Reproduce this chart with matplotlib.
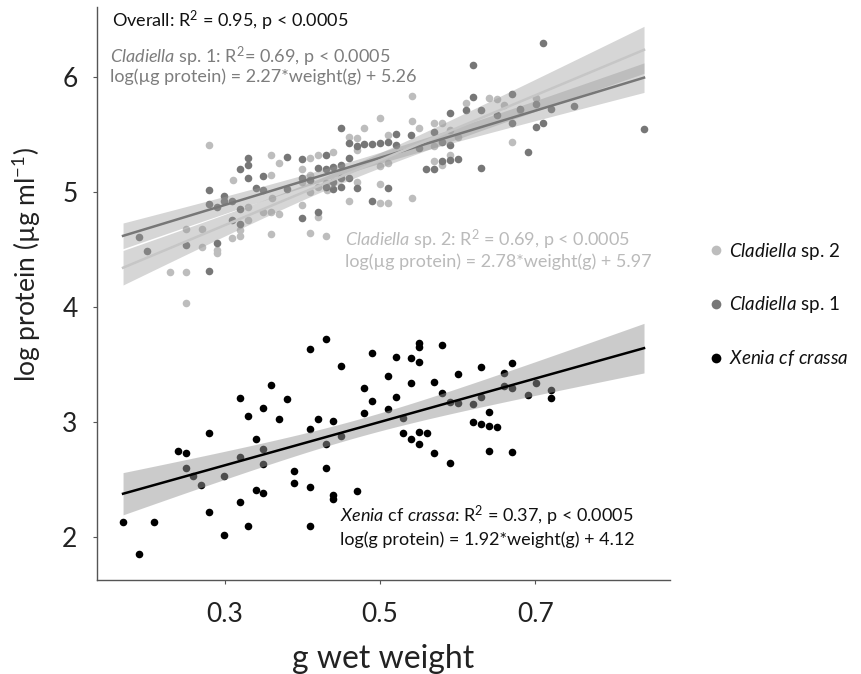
import numpy as np
import matplotlib
matplotlib.use("Agg")
import matplotlib.pyplot as plt
from matplotlib.lines import Line2D

plt.rcParams["font.family"] = ["Lato", "DejaVu Sans"]
plt.rcParams["mathtext.fontset"] = "custom"
plt.rcParams["mathtext.rm"] = "Lato"
plt.rcParams["mathtext.it"] = "Lato:italic"
plt.rcParams["mathtext.default"] = "regular"

# Cladiella sp. 1 (dark grey)
sp1_weight = [0.190, 0.200, 0.250, 0.280, 0.280, 0.280, 0.290, 0.290, 0.299, 0.299,
              0.309, 0.309, 0.320, 0.320, 0.320, 0.330, 0.330, 0.330, 0.340, 0.349,
              0.349, 0.380, 0.380, 0.400, 0.400, 0.400, 0.410, 0.420, 0.420, 0.430,
              0.430, 0.430, 0.439, 0.439, 0.439, 0.450, 0.450, 0.450, 0.450, 0.460,
              0.460, 0.460, 0.470, 0.470, 0.479, 0.490, 0.490, 0.500, 0.510, 0.510,
              0.521, 0.521, 0.540, 0.550, 0.559, 0.570, 0.570, 0.580, 0.580, 0.590,
              0.590, 0.590, 0.601, 0.611, 0.620, 0.620, 0.630, 0.630, 0.651, 0.670,
              0.670, 0.680, 0.691, 0.701, 0.701, 0.710, 0.710, 0.720, 0.750, 0.840]
sp1_protein = [4.61, 4.49, 4.54, 5.02, 4.90, 4.32, 4.87, 4.56, 4.97, 4.93,
               4.93, 4.76, 5.20, 4.86, 4.73, 5.30, 5.24, 5.13, 5.04, 5.14,
               5.02, 5.31, 5.03, 5.29, 5.13, 4.78, 5.11, 5.21, 4.83, 5.33,
               5.20, 5.05, 5.22, 5.09, 5.03, 5.56, 5.24, 5.13, 5.05, 5.43,
               5.30, 5.13, 5.40, 5.04, 5.42, 5.42, 4.93, 5.43, 5.44, 5.04,
               5.51, 5.41, 5.50, 5.39, 5.20, 5.20, 5.53, 5.44, 5.27, 5.41,
               5.28, 5.69, 5.29, 5.72, 5.83, 6.11, 5.72, 5.21, 5.67, 5.86,
               5.60, 5.73, 5.35, 5.77, 5.57, 5.60, 6.30, 5.73, 5.75, 5.55]

# Cladiella sp. 2 (light grey)
sp2_weight = [0.230, 0.250, 0.250, 0.250, 0.271, 0.271, 0.280, 0.290, 0.290, 0.309,
              0.311, 0.320, 0.320, 0.330, 0.330, 0.349, 0.360, 0.360, 0.360, 0.360,
              0.361, 0.370, 0.370, 0.400, 0.400, 0.400, 0.410, 0.410, 0.410, 0.410,
              0.420, 0.420, 0.420, 0.430, 0.430, 0.432, 0.439, 0.460, 0.460, 0.470,
              0.470, 0.470, 0.479, 0.500, 0.500, 0.500, 0.500, 0.510, 0.510, 0.510,
              0.541, 0.541, 0.541, 0.550, 0.570, 0.580, 0.570, 0.570, 0.580, 0.590,
              0.590, 0.601, 0.611, 0.640, 0.651, 0.660, 0.670, 0.680, 0.701]
sp2_protein = [4.31, 4.31, 4.68, 4.04, 4.68, 4.53, 5.41, 4.50, 4.47, 4.60,
               5.11, 4.67, 4.62, 4.87, 4.76, 4.83, 5.33, 5.15, 4.83, 4.64,
               4.95, 5.26, 4.81, 4.89, 5.20, 5.09, 5.30, 5.15, 5.00, 4.65,
               5.33, 5.05, 4.79, 5.08, 4.62, 5.02, 5.35, 5.48, 4.93, 5.47,
               5.37, 5.09, 5.56, 5.65, 5.23, 5.07, 4.91, 5.50, 5.26, 4.91,
               5.84, 5.62, 4.95, 5.56, 5.60, 5.60, 5.40, 5.27, 5.24, 5.54,
               5.33, 5.48, 5.78, 5.82, 5.81, 5.76, 5.44, 5.72, 5.82]

# Xenia cf crassa (black)
xen_weight = [0.169, 0.190, 0.209, 0.240, 0.250, 0.250, 0.259, 0.270, 0.280, 0.280,
              0.299, 0.299, 0.320, 0.320, 0.320, 0.330, 0.330, 0.340, 0.340, 0.349,
              0.349, 0.349, 0.349, 0.360, 0.370, 0.380, 0.389, 0.389, 0.410, 0.410,
              0.410, 0.410, 0.420, 0.430, 0.430, 0.430, 0.439, 0.439, 0.439, 0.450,
              0.450, 0.470, 0.479, 0.479, 0.490, 0.490, 0.510, 0.510, 0.521, 0.521,
              0.530, 0.530, 0.540, 0.540, 0.540, 0.550, 0.550, 0.550, 0.550, 0.550,
              0.561, 0.570, 0.570, 0.580, 0.580, 0.590, 0.590, 0.601, 0.601, 0.620,
              0.620, 0.630, 0.630, 0.630, 0.640, 0.640, 0.640, 0.651, 0.660, 0.660,
              0.670, 0.670, 0.670, 0.691, 0.701, 0.720, 0.720]
xen_protein = [2.13, 1.86, 2.13, 2.75, 2.73, 2.60, 2.53, 2.46, 2.91, 2.22,
               2.53, 2.02, 3.21, 2.70, 2.31, 3.06, 2.10, 2.86, 2.41, 3.13,
               2.77, 2.64, 2.39, 3.33, 3.03, 3.20, 2.58, 2.47, 3.64, 2.94,
               2.44, 2.10, 3.03, 3.73, 2.81, 2.60, 3.01, 2.37, 2.33, 3.49,
               2.88, 2.40, 3.30, 3.08, 3.60, 3.19, 3.40, 3.12, 3.57, 3.22,
               3.04, 2.91, 3.56, 3.34, 2.86, 3.69, 3.66, 3.53, 2.92, 2.81,
               2.91, 3.35, 2.73, 3.67, 3.26, 3.18, 2.65, 3.42, 3.17, 3.16,
               3.00, 3.48, 3.22, 2.99, 3.09, 2.97, 2.75, 2.96, 3.43, 3.32,
               3.52, 3.30, 2.74, 3.24, 3.34, 3.28, 3.21]

x_ticks = [0.3, 0.5, 0.7]
y_ticks = [2, 3, 4, 5, 6]


def fit_band(x, y, xs):
    x = np.asarray(x)
    y = np.asarray(y)
    slope, intercept = np.polyfit(x, y, 1)
    resid = y - (slope * x + intercept)
    n = len(x)
    s = np.sqrt(np.sum(resid ** 2) / (n - 2))
    se = s * np.sqrt(1.0 / n + (xs - x.mean()) ** 2 / np.sum((x - x.mean()) ** 2))
    fit = slope * xs + intercept
    return fit, fit - 1.99 * se, fit + 1.99 * se


fig = plt.figure(figsize=(8.61, 6.74), dpi=100)
ax = fig.add_axes([0.1127, 0.1395, 0.6655, 0.8501])

ax.scatter(sp2_weight, sp2_protein, s=30, color="#bdbdbd", linewidths=0, zorder=2)
ax.scatter(sp1_weight, sp1_protein, s=30, color="#777777", linewidths=0, zorder=2)
ax.scatter(xen_weight, xen_protein, s=30, color="black", linewidths=0, zorder=2)

all_w = sp1_weight + sp2_weight + xen_weight
xs = np.linspace(min(all_w), max(all_w), 100)

for w, p, line_col, alpha in [(sp1_weight, sp1_protein, "#777777", 0.4),
                              (sp2_weight, sp2_protein, "#c6c6c6", 0.4),
                              (xen_weight, xen_protein, "black", 0.5)]:
    fit, lo, hi = fit_band(w, p, xs)
    ax.fill_between(xs, lo, hi, color="#999999", alpha=alpha, linewidth=0, zorder=3)
    ax.plot(xs, fit, color=line_col, linewidth=1.8, zorder=4)

ax.set_xlim(0.1355, 0.8735)
ax.set_ylim(1.63, 6.613)
ax.set_xticks(x_ticks)
ax.set_xticklabels(["0.3", "0.5", "0.7"])
ax.set_yticks(y_ticks)
for side in ["top", "right"]:
    ax.spines[side].set_visible(False)
for side in ["left", "bottom"]:
    ax.spines[side].set_color("#555555")
    ax.spines[side].set_linewidth(1.0)
ax.tick_params(axis="both", direction="out", length=3, width=0.8, colors="#555555",
               labelcolor="#222222", labelsize=19)
ax.tick_params(axis="x", pad=13)
ax.tick_params(axis="y", pad=11)

ax.set_xlabel("g wet weight", fontsize=23, color="#222222", labelpad=12)
ax.set_ylabel("log protein (µg ml$^{-1}$)", fontsize=19, color="#222222")
ax.yaxis.set_label_coords(-0.094, 0.551)

fs = 13
ax.text(0.026, 0.976, "Overall: R$^2$ = 0.95, p < 0.0005", transform=ax.transAxes,
        fontsize=fs, color="#111111", va="center")
ax.text(0.023, 0.913, r"$\mathit{Cladiella}$ sp. 1: R$^2$= 0.69, p < 0.0005",
        transform=ax.transAxes, fontsize=fs, color="#7d7d7d", va="center")
ax.text(0.023, 0.878, "log(µg protein) = 2.27*weight(g) + 5.26",
        transform=ax.transAxes, fontsize=fs, color="#7d7d7d", va="center")
ax.text(0.433, 0.593, r"$\mathit{Cladiella}$ sp. 2: R$^2$ = 0.69, p < 0.0005",
        transform=ax.transAxes, fontsize=fs, color="#bababa", va="center")
ax.text(0.433, 0.555, "log(µg protein) = 2.78*weight(g) + 5.97",
        transform=ax.transAxes, fontsize=fs, color="#bababa", va="center")
ax.text(0.424, 0.112, r"$\mathit{Xenia}$ cf $\mathit{crassa}$: R$^2$ = 0.37, p < 0.0005",
        transform=ax.transAxes, fontsize=fs, color="#111111", va="center")
ax.text(0.424, 0.070, "log(g protein) = 1.92*weight(g) + 4.12",
        transform=ax.transAxes, fontsize=fs, color="#111111", va="center")

handles = [Line2D([], [], linestyle="none", marker="o", markersize=7, color="#bdbdbd",
                  markeredgewidth=0),
           Line2D([], [], linestyle="none", marker="o", markersize=7, color="#777777",
                  markeredgewidth=0),
           Line2D([], [], linestyle="none", marker="o", markersize=7, color="black",
                  markeredgewidth=0)]
labels = [r"$\mathit{Cladiella}$ sp. 2", r"$\mathit{Cladiella}$ sp. 1",
          r"$\mathit{Xenia\ cf\ crassa}$"]
fig.legend(handles, labels, loc="upper left", bbox_to_anchor=(0.801, 0.668),
           frameon=False, fontsize=13.5, labelspacing=1.75, handletextpad=0.2,
           handlelength=1.0, labelcolor="#111111")

fig.savefig("out.png", dpi=100)
